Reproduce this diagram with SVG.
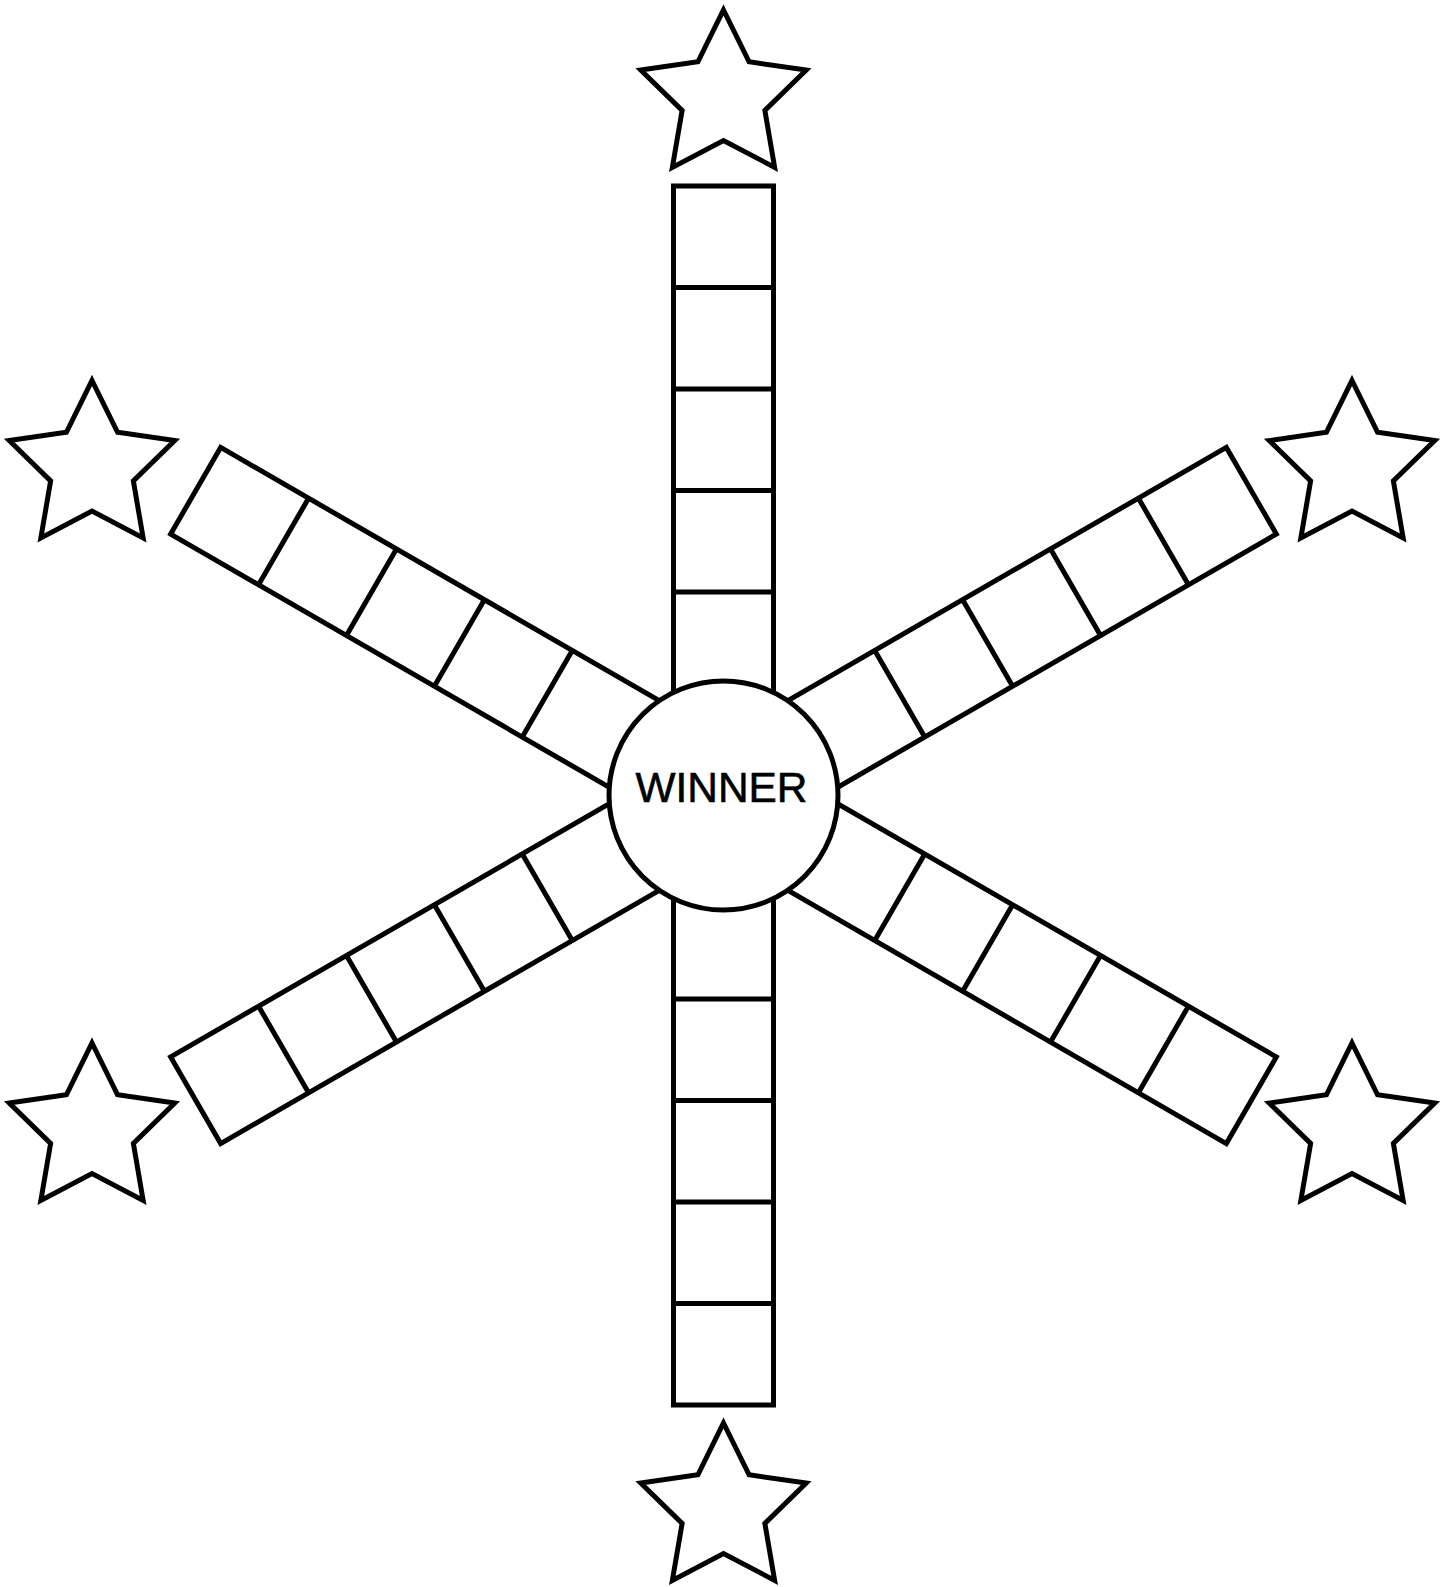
<svg xmlns="http://www.w3.org/2000/svg" xmlns:xlink="http://www.w3.org/1999/xlink" width="1453" height="1587" viewBox="0 0 1453 1587">
<style>
.ln{fill:none;stroke:#000;stroke-width:5;stroke-linejoin:miter;stroke-miterlimit:10}
.star{fill:#fff;stroke:#000;stroke-width:5;stroke-linejoin:miter;stroke-miterlimit:10}
.hub{fill:#fff;stroke:#000;stroke-width:5}
.lbl{font-family:"Liberation Sans",Arial,sans-serif;font-size:42px;fill:#000;stroke:#000;stroke-width:0.6;text-anchor:middle}
</style>
<defs>
<path id="arm" d="M673.5,795.5 V186 H773.5 V795.5 M673.5,287.5 H773.5 M673.5,389 H773.5 M673.5,490.5 H773.5 M673.5,592 H773.5"/>
<path id="starShape" d="M0,-87 L25.57,-35.19 L82.74,-26.88 L41.37,13.44 L51.14,70.38 L0,43.5 L-51.14,70.38 L-41.37,13.44 L-82.74,-26.88 L-25.57,-35.19 Z"/>
</defs>
<rect width="1453" height="1587" fill="#fff"/>
<g id="connectors">
<g id="arm-top" class="ln"><use xlink:href="#arm" href="#arm"/></g>
<g id="arm-upper-right" class="ln"><use xlink:href="#arm" href="#arm" transform="rotate(60 723.5 795.5)"/></g>
<g id="arm-lower-right" class="ln"><use xlink:href="#arm" href="#arm" transform="rotate(120 723.5 795.5)"/></g>
<g id="arm-bottom" class="ln"><use xlink:href="#arm" href="#arm" transform="rotate(180 723.5 795.5)"/></g>
<g id="arm-lower-left" class="ln"><use xlink:href="#arm" href="#arm" transform="rotate(240 723.5 795.5)"/></g>
<g id="arm-upper-left" class="ln"><use xlink:href="#arm" href="#arm" transform="rotate(300 723.5 795.5)"/></g>
</g>
<g id="winner">
<circle class="hub" cx="723.5" cy="795.5" r="114.5"/>
<text class="lbl" x="721.5" y="801.5" textLength="172" lengthAdjust="spacingAndGlyphs">WINNER</text>
</g>
<g id="star-top"><use class="star" xlink:href="#starShape" href="#starShape" transform="translate(723.5 97)"/></g>
<g id="star-upper-left"><use class="star" xlink:href="#starShape" href="#starShape" transform="translate(92 467.5)"/></g>
<g id="star-upper-right"><use class="star" xlink:href="#starShape" href="#starShape" transform="translate(1352 467.5)"/></g>
<g id="star-lower-left"><use class="star" xlink:href="#starShape" href="#starShape" transform="translate(92 1130)"/></g>
<g id="star-lower-right"><use class="star" xlink:href="#starShape" href="#starShape" transform="translate(1352 1130)"/></g>
<g id="star-bottom"><use class="star" xlink:href="#starShape" href="#starShape" transform="translate(723.5 1510)"/></g>
</svg>
